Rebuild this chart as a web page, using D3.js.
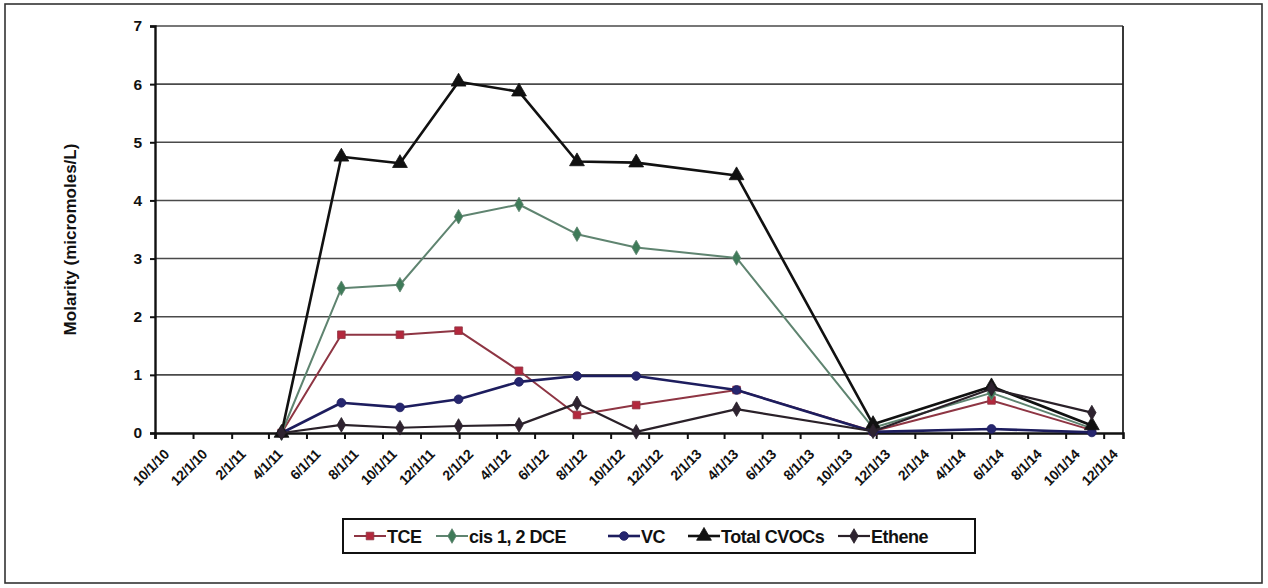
<!DOCTYPE html>
<html>
<head>
<meta charset="utf-8">
<script src="https://cdn.jsdelivr.net/npm/d3@7"></script>
<style>
  html, body { margin: 0; padding: 0; background: #fff; }
  svg { display: block; font-family: Arial, "Liberation Sans", sans-serif; }
</style>
</head>
<body>
<svg id="chart" width="1268" height="588"></svg>
<script>
// Sampling dates and measured molarities (micromoles/L)
const sampleDates = ["2011-04-22", "2011-07-27", "2011-10-29", "2012-01-31", "2012-05-07",
  "2012-08-08", "2012-11-11", "2013-04-21", "2013-11-26", "2014-06-04", "2014-11-12"];
const tce    = [0, 1.69, 1.69, 1.76, 1.07, 0.31, 0.48, 0.74, 0.03, 0.56, 0.05];
const dce    = [0, 2.49, 2.55, 3.72, 3.93, 3.42, 3.19, 3.01, 0.09, 0.69, 0.08];
const vc     = [0, 0.52, 0.44, 0.58, 0.88, 0.98, 0.98, 0.74, 0.02, 0.07, 0.01];
const total  = [0, 4.75, 4.64, 6.04, 5.87, 4.67, 4.65, 4.43, 0.15, 0.80, 0.13];
const ethene = [0, 0.14, 0.09, 0.12, 0.14, 0.51, 0.02, 0.41, 0.03, 0.76, 0.35];

const seriesNames = ["TCE", "cis 1, 2 DCE", "VC", "Total CVOCs", "Ethene"];
const yTicks = [0, 1, 2, 3, 4, 5, 6, 7];
const xTickLabels = ["10/1/10", "12/1/10", "2/1/11", "4/1/11", "6/1/11", "8/1/11", "10/1/11",
  "12/1/11", "2/1/12", "4/1/12", "6/1/12", "8/1/12", "10/1/12", "12/1/12", "2/1/13", "4/1/13",
  "6/1/13", "8/1/13", "10/1/13", "12/1/13", "2/1/14", "4/1/14", "6/1/14", "8/1/14", "10/1/14", "12/1/14"];
const axisStart = "2010-10-01", axisEnd = "2015-01-01";

const parse = d3.utcParse("%Y-%m-%d");
const parseTick = d3.utcParse("%m/%d/%y");
const fmt = d => `${d.getUTCMonth() + 1}/${d.getUTCDate()}/${String(d.getUTCFullYear()).slice(2)}`;

const series = [
  { name: seriesNames[0], values: tce,    line: "#8e3543", fill: "#b3283d", shape: "square",   w: 2 },
  { name: seriesNames[1], values: dce,    line: "#5f8470", fill: "#3f7b59", shape: "diamond",  w: 2 },
  { name: seriesNames[2], values: vc,     line: "#1d1d5e", fill: "#26266f", shape: "circle",   w: 2.6 },
  { name: seriesNames[3], values: total,  line: "#111111", fill: "#111111", shape: "triangle", w: 2.6 },
  { name: seriesNames[4], values: ethene, line: "#2a2129", fill: "#2e2330", shape: "diamond",  w: 2.2 }
];

const svg = d3.select("#chart");
const W = 1268, H = 588;
const plot = { left: 155, right: 1123, top: 26, bottom: 433 };

// Outer chart frame
svg.append("rect").attr("x", 5).attr("y", 4).attr("width", W - 11).attr("height", H - 9)
  .attr("fill", "#fff").attr("stroke", "#333").attr("stroke-width", 1.6);

const x = d3.scaleUtc().domain([parse(axisStart), parse(axisEnd)]).range([plot.left, plot.right]);
const y = d3.scaleLinear().domain([0, 7]).range([plot.bottom, plot.top]);

// Horizontal gridlines
svg.append("g").selectAll("line").data(yTicks.slice(1)).join("line")
  .attr("x1", plot.left).attr("x2", plot.right)
  .attr("y1", d => y(d)).attr("y2", d => y(d))
  .attr("stroke", "#4a4a4a").attr("stroke-width", 1.6);

// Plot area right edge
svg.append("line").attr("x1", plot.right).attr("x2", plot.right)
  .attr("y1", plot.top).attr("y2", plot.bottom).attr("stroke", "#222").attr("stroke-width", 1.8);

// Y axis
const yAxis = svg.append("g").attr("transform", `translate(${plot.left},0)`)
  .call(d3.axisLeft(y).tickValues(yTicks).tickSize(5).tickPadding(8).tickFormat(d3.format("d")));
yAxis.select(".domain").attr("stroke", "#111").attr("stroke-width", 2.4);
yAxis.selectAll(".tick line").attr("stroke", "#111").attr("stroke-width", 2);
yAxis.selectAll("text").attr("font-size", 15.5).attr("font-weight", "bold").attr("fill", "#111");

// X axis: a tick every two months, labels slanted
const xTickDates = xTickLabels.map(parseTick);
const xAxis = svg.append("g").attr("transform", `translate(0,${plot.bottom})`)
  .call(d3.axisBottom(x).tickValues(xTickDates).tickSize(6).tickFormat(fmt));
xAxis.select(".domain").attr("stroke", "#111").attr("stroke-width", 2.6);
xAxis.selectAll(".tick line").attr("stroke", "#111").attr("stroke-width", 2);
xAxis.selectAll("text")
  .attr("font-size", 14).attr("font-weight", "bold").attr("fill", "#111")
  .attr("letter-spacing", -0.4)
  .attr("text-anchor", "end").attr("dy", 0)
  .attr("transform", "translate(8,16) rotate(-45)");

// Y axis title
svg.append("text")
  .attr("transform", `translate(76,${(plot.top + plot.bottom) / 2 + 10}) rotate(-90)`)
  .attr("text-anchor", "middle").attr("font-size", 17).attr("font-weight", "bold")
  .attr("fill", "#111").text("Molarity (micromoles/L)");

// Marker shapes
const symbolOf = {
  square:   d3.symbol().type(d3.symbolSquare).size(58),
  diamond:  d3.symbol().type(d3.symbolDiamond).size(62),
  circle:   d3.symbol().type(d3.symbolCircle).size(60),
  triangle: d3.symbol().type(d3.symbolTriangle).size(95)
};

const dates = sampleDates.map(parse);
const line = d3.line().x(d => x(d.date)).y(d => y(d.v));

series.forEach(s => {
  const pts = dates.map((date, i) => ({ date, v: s.values[i] }));
  const g = svg.append("g");
  g.append("path").datum(pts).attr("d", line)
    .attr("fill", "none").attr("stroke", s.line).attr("stroke-width", s.w)
    .attr("stroke-linejoin", "round");
  g.selectAll("path.mk").data(pts).join("path").attr("class", "mk")
    .attr("d", symbolOf[s.shape])
    .attr("transform", d => `translate(${x(d.date)},${y(d.v)})`)
    .attr("fill", s.fill).attr("stroke", s.line).attr("stroke-width", 0.8);
});

// Legend
const legend = svg.append("g");
legend.append("rect").attr("x", 343).attr("y", 519).attr("width", 632).attr("height", 34)
  .attr("fill", "#fff").attr("stroke", "#111").attr("stroke-width", 2);
const legendX = [354, 436, 608, 688, 838];
series.forEach((s, i) => {
  const lx = legendX[i], ly = 536;
  legend.append("line").attr("x1", lx).attr("x2", lx + 32).attr("y1", ly).attr("y2", ly)
    .attr("stroke", s.line).attr("stroke-width", s.w);
  legend.append("path").attr("d", symbolOf[s.shape])
    .attr("transform", `translate(${lx + 16},${ly})`)
    .attr("fill", s.fill).attr("stroke", s.line).attr("stroke-width", 0.8);
  legend.append("text").attr("x", lx + 33).attr("y", ly + 6.5)
    .attr("font-size", 18).attr("font-weight", "bold").attr("fill", "#111")
    .attr("letter-spacing", -0.5)
    .text(s.name);
});
</script>
</body>
</html>
